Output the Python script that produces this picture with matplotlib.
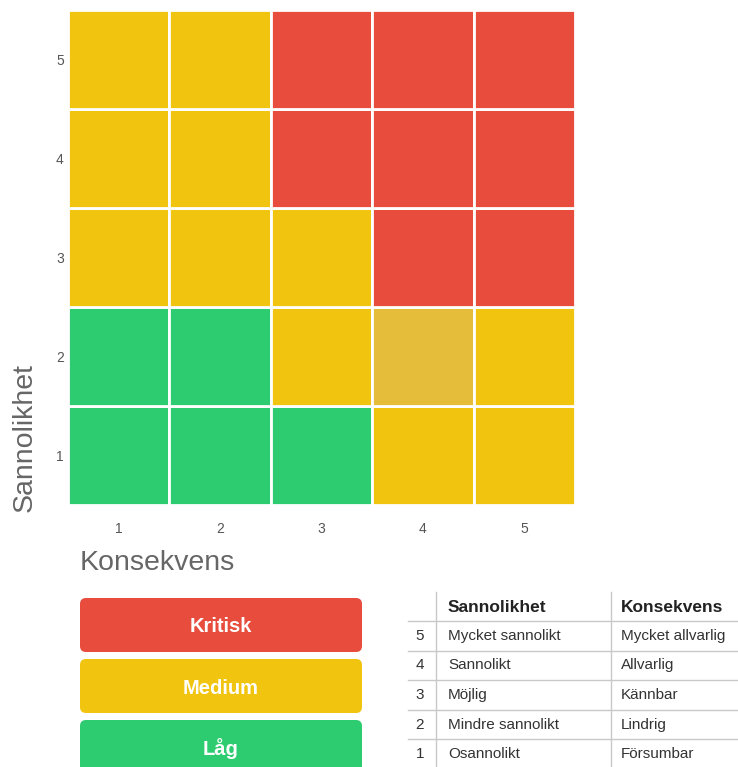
import matplotlib
matplotlib.use("Agg")
import matplotlib.pyplot as plt
from matplotlib.patches import FancyBboxPatch

plt.rcParams['font.family'] = ['Liberation Sans', 'DejaVu Sans']

# data
konsekvens = [1, 2, 3, 4, 5]
sannolikhet = [1, 2, 3, 4, 5]
# risk level per row (sannolikhet 1..5), per column (konsekvens 1..5)
risk = [
    ["Låg", "Låg", "Låg", "Medium", "Medium"],
    ["Låg", "Låg", "Medium", "Medium", "Medium"],
    ["Medium", "Medium", "Medium", "Kritisk", "Kritisk"],
    ["Medium", "Medium", "Kritisk", "Kritisk", "Kritisk"],
    ["Medium", "Medium", "Kritisk", "Kritisk", "Kritisk"],
]
highlight = (4, 2)  # hovered cell (konsekvens, sannolikhet)

levels = ["Kritisk", "Medium", "Låg"]
level_colors = {"Kritisk": "#E74C3C", "Medium": "#F1C40F", "Låg": "#2ECC71"}
highlight_color = "#E5BD3B"

table_nr = [5, 4, 3, 2, 1]
table_sannolikhet = ["Mycket sannolikt", "Sannolikt", "Möjlig", "Mindre sannolikt", "Osannolikt"]
table_konsekvens = ["Mycket allvarlig", "Allvarlig", "Kännbar", "Lindrig", "Försumbar"]

W, H = 738, 767
fig = plt.figure(figsize=(W / 100, H / 100), dpi=100)

# heatmap
ax = fig.add_axes([68 / W, 1 - 505 / H, 507 / W, 495 / H])
for yi, s in enumerate(sannolikhet):
    for xi, k in enumerate(konsekvens):
        c = level_colors[risk[yi][xi]]
        if (k, s) == highlight:
            c = highlight_color
        ax.bar(k, 1, bottom=s - 0.5, width=1, color=c, edgecolor='white', linewidth=2)
ax.set_xlim(0.5, 5.5)
ax.set_ylim(0.5, 5.5)
ax.set_xticks(konsekvens)
ax.set_yticks(sannolikhet)
ax.tick_params(length=0, labelsize=10, labelcolor='#555555')
ax.tick_params(axis='x', pad=12)
ax.tick_params(axis='y', pad=3)
for sp in ax.spines.values():
    sp.set_visible(False)

fig.text(25 / W, 1 - 512 / H, "Sannolikhet", rotation=90, ha='center', va='bottom',
         fontsize=20.5, color='#666666')
fig.text(80 / W, 1 - 563 / H, "Konsekvens", ha='left', va='center',
         fontsize=20.5, color='#666666')

# overlay in pixel coords for legend and table
ov = fig.add_axes([0, 0, 1, 1])
ov.set_xlim(0, W)
ov.set_ylim(H, 0)
ov.axis('off')

box_x, box_w, box_h, box_top, box_step = 80, 282, 54, 598, 61
for i, lv in enumerate(levels):
    top = box_top + i * box_step
    ov.add_patch(FancyBboxPatch((box_x, top), box_w, box_h,
                                boxstyle="round,pad=0,rounding_size=6",
                                facecolor=level_colors[lv], edgecolor='none'))
    ov.text(box_x + box_w / 2, top + box_h / 2 + 2, lv, ha='center', va='center',
            fontsize=14.5, fontweight='bold', color='white')

# table
tx0, tx1 = 408, 738
col_nr, col_s, col_k = 420, 448, 621
vlines = [436, 611]
head_y = 607
line0, row_h = 621, 29.6
for vx in vlines:
    ov.plot([vx, vx], [592, H], color='#c8c8c8', lw=1)
ov.text(col_s, head_y, "Sannolikhet", ha='left', va='center', fontsize=12.5,
        fontweight='bold', color='#222222')
ov.text(col_k, head_y, "Konsekvens", ha='left', va='center', fontsize=12.5,
        fontweight='bold', color='#222222')
for i, (n, s, k) in enumerate(zip(table_nr, table_sannolikhet, table_konsekvens)):
    ly = line0 + i * row_h
    ov.plot([tx0, tx1], [ly, ly], color='#c8c8c8', lw=1)
    cy = ly + row_h / 2
    ov.text(col_nr, cy, str(n), ha='center', va='center', fontsize=11, color='#333333')
    ov.text(col_s, cy, s, ha='left', va='center', fontsize=11, color='#333333')
    ov.text(col_k, cy, k, ha='left', va='center', fontsize=11, color='#333333')

fig.savefig("out.png", dpi=100)
